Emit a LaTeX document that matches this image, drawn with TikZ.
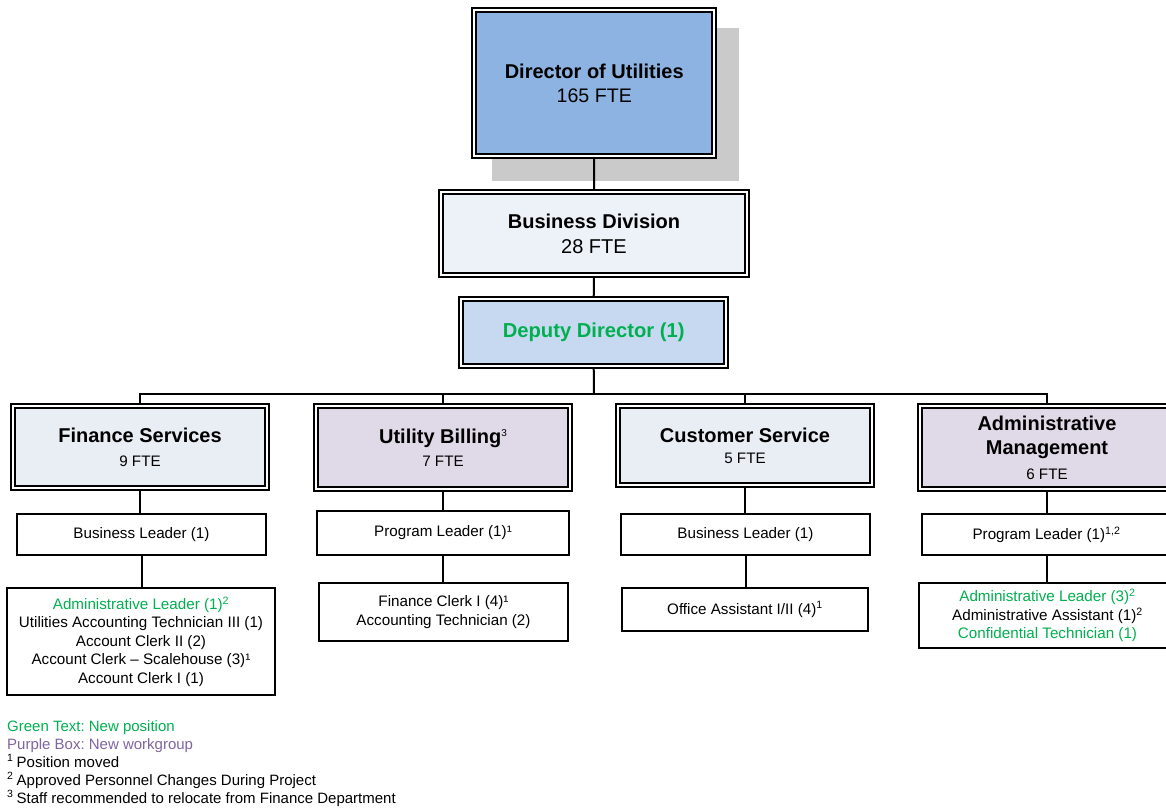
\documentclass[tikz,border=0pt]{standalone}
\usepackage{fontspec}
\setmainfont{Liberation Sans}
\definecolor{dirblue}{RGB}{141,179,226}
\definecolor{divfill}{RGB}{237,241,248}
\definecolor{depfill}{RGB}{198,217,240}
\definecolor{secfill}{RGB}{233,238,245}
\definecolor{purfill}{RGB}{224,217,231}
\definecolor{shadowgray}{RGB}{202,202,202}
\definecolor{newgreen}{RGB}{0,176,80}
\definecolor{legpurple}{RGB}{128,100,162}
\newcommand\orgbody{\fontsize{15.2}{18.5}\selectfont}
\newcommand\orghead{\fontsize{20}{24}\selectfont\bfseries}
\newcommand\orgsup[1]{\raisebox{7pt}{\fontsize{10}{10}\selectfont\mdseries #1}}
\newcommand\keymark[1]{\makebox[9.5pt][l]{\textsuperscript{#1}}}
\pgfdeclarelayer{shade}
\pgfdeclarelayer{links}
\pgfsetlayers{shade,links,main}
\frenchspacing
\begin{document}
\begin{tikzpicture}[x=1pt,y=-1pt,
  hdr/.style={draw=black, line width=1.6pt, double=white, double distance=2.4pt,
    inner sep=0pt, align=center, text=black},
  unit/.style={draw=black, line width=1.9pt, fill=white, inner sep=0pt,
    align=center, font=\orgbody},
  link/.style={line width=2pt, draw=black},
  leg/.style={anchor=base west, inner sep=0pt, font=\fontsize{15}{18}\selectfont}]
\useasboundingbox (0,0) rectangle (1166,809);
\clip (0,0) rectangle (1166,809);

% drop shadow behind the director box
\begin{pgfonlayer}{shade}
  \fill[shadowgray] (492,28) rectangle (739,181);
\end{pgfonlayer}

% top of the hierarchy
\node[hdr, fill=dirblue, minimum width=240, minimum height=145.5,
  font=\fontsize{19.6}{24}\selectfont] (dir) at (594.25,83)
  {{\fontsize{20}{24}\selectfont\bfseries Director of Utilities}\\165 FTE};
\node[hdr, fill=divfill, minimum width=306, minimum height=83,
  font=\fontsize{20}{25}\selectfont] (bd) at (594,233.5)
  {\textbf{Business Division}\\28 FTE};
\node[hdr, fill=depfill, minimum width=265, minimum height=67,
  font=\fontsize{20.2}{22}\selectfont\bfseries, text=newgreen] (dep) at (593.7,332.5)
  {Deputy Director (1)};

% workgroups
\node[hdr, fill=secfill, minimum width=253.5, minimum height=82.5,
  font=\fontsize{15.2}{24}\selectfont] (fin) at (140,447)
  {{\orghead Finance Services}\\9 FTE};
\node[hdr, fill=purfill, minimum width=254, minimum height=83,
  font=\fontsize{15.2}{23.3}\selectfont] (ub) at (443,447.5)
  {{\orghead Utility Billing\orgsup{3}}\\7 FTE};
\node[hdr, fill=secfill, minimum width=254, minimum height=79,
  font=\fontsize{15.2}{21}\selectfont] (cs) at (745,445.5)
  {{\orghead Customer Service}\\5 FTE};
\node[hdr, fill=purfill, minimum width=254, minimum height=83,
  font=\fontsize{15.2}{24.5}\selectfont] (am) at (1047,447.5)
  {{\orghead Administrative}\\{\orghead Management}\\6 FTE};

% leaders
\node[unit, minimum width=249, minimum height=41] (finbl) at (141.5,534.5) {Business Leader (1)};
\node[unit, minimum width=252, minimum height=44] (ubpl) at (443,533) {Program Leader (1)¹};
\node[unit, minimum width=249, minimum height=41] (csbl) at (745.5,534.5) {Business Leader (1)};
\node[unit, minimum width=249, minimum height=41] (ampl) at (1046.5,534.5) {Program Leader (1)\textsuperscript{1,2}};

% staff
\node[unit, minimum width=268, minimum height=107] (finst) at (141,641.5)
  {\textcolor{newgreen}{Administrative Leader (1)\textsuperscript{2}}\\
   Utilities Accounting Technician III (1)\\
   Account Clerk II (2)\\
   Account Clerk – Scalehouse (3)¹\\
   Account Clerk I (1)};
\node[unit, minimum width=249, minimum height=58] (ubst) at (443.5,612)
  {Finance Clerk I (4)¹\\Accounting Technician (2)};
\node[unit, minimum width=246, minimum height=43] (csst) at (745,609.5)
  {Office Assistant I/II (4)\textsuperscript{1}};
\node[unit, minimum width=257, minimum height=65] (amst) at (1047.5,615.5)
  {\textcolor{newgreen}{Administrative Leader (3)\textsuperscript{2}}\\
   Administrative Assistant (1)\textsuperscript{2}\\
   \textcolor{newgreen}{Confidential Technician (1)}};

% reporting lines
\coordinate (bus) at (594,394);
\begin{pgfonlayer}{links}
  \draw[link] (dir.south) -- (bd.north);
  \draw[link] (bd.south) -- (dep.north);
  \draw[link] (dep.south) -- (bus);
  \foreach \h in {fin,ub,cs,am} {
    \draw[link] (bus) -| (\h.north);
  }
  \draw[link] (fin.south) -- (fin.south |- finbl.north);
  \draw[link] (finbl.south) -- (finbl.south |- finst.north);
  \draw[link] (ub.south) -- (ub.south |- ubpl.north);
  \draw[link] (ubpl.south) -- (ubpl.south |- ubst.north);
  \draw[link] (cs.south) -- (cs.south |- csbl.north);
  \draw[link] (csbl.south) -- (csbl.south |- csst.north);
  \draw[link] (am.south) -- (am.south |- ampl.north);
  \draw[link] (ampl.south) -- (ampl.south |- amst.north);
\end{pgfonlayer}

% key
\node[leg, text=newgreen] (key1) at (7,731) {Green Text: New position};
\node[leg, text=legpurple] (key2) at (7,749) {Purple Box: New workgroup};
\node[leg] (key3) at (7,767) {\keymark{1}Position moved};
\node[leg] (key4) at (7,785) {\keymark{2}Approved Personnel Changes During Project};
\node[leg] (key5) at (7,803) {\keymark{3}Staff recommended to relocate from Finance Department};
\end{tikzpicture}
\end{document}
